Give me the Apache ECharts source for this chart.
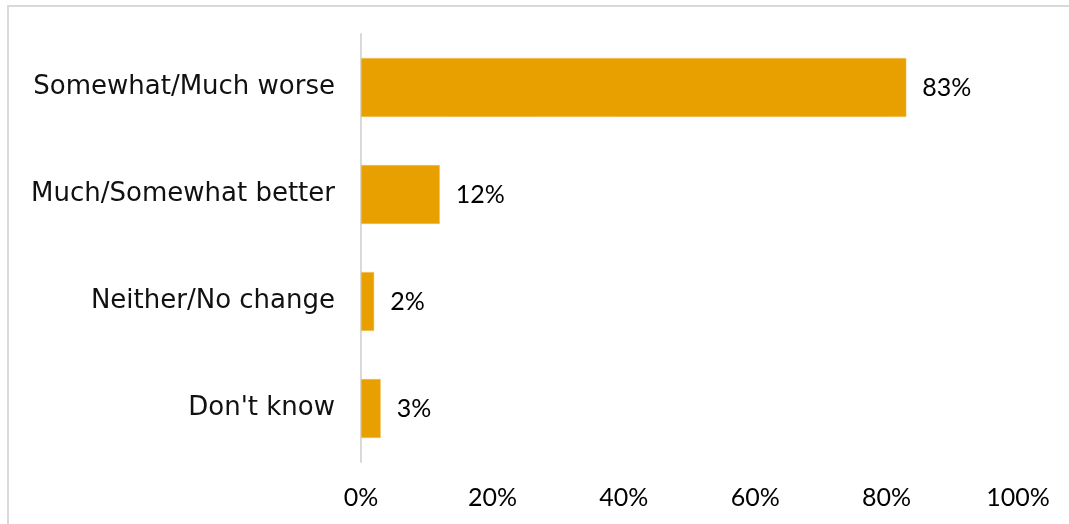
<!DOCTYPE html>
<html>
<head>
<meta charset="utf-8">
<script src="https://cdn.jsdelivr.net/npm/echarts@6/dist/echarts.min.js"></script>
<style>
  html, body { margin: 0; padding: 0; background: #fff; }
  #frame { position: absolute; left: 7px; top: 5px; width: 1080px; height: 540px;
           border: 2px solid #d9d9d9; box-sizing: border-box; }
  #chart { position: absolute; left: 0; top: 0; width: 1069px; height: 524px; }
</style>
</head>
<body>
<div id="frame"></div>
<div id="chart"></div>
<script>
// Survey responses, listed top to bottom
const categories = ['Somewhat/Much worse', 'Much/Somewhat better', 'Neither/No change', "Don't know"];
const shares = [83, 12, 2, 3];
const tickValues = [0, 20, 40, 60, 80, 100];

const TEXT_FONT = '"DejaVu Sans", sans-serif';
const NUM_FONT = 'Lato, "DejaVu Sans", sans-serif';

const chart = echarts.init(document.getElementById('chart'), null, { renderer: 'canvas' });
chart.setOption({
  animation: false,
  grid: { left: 361, right: 51, top: 34, bottom: 62, containLabel: false },
  xAxis: {
    type: 'value',
    min: 0, max: 100, interval: 20,
    axisLine: { show: false },
    axisTick: { show: false },
    splitLine: { show: false },
    axisLabel: {
      formatter: v => tickValues.includes(v) ? v + '%' : '',
      color: '#000', fontSize: 25, fontFamily: NUM_FONT, margin: 23
    }
  },
  yAxis: {
    type: 'category',
    data: categories.slice().reverse(),
    axisLine: { show: true, lineStyle: { color: '#d9d9d9', width: 2 } },
    axisTick: { show: false },
    axisLabel: { color: '#111', fontSize: 26, fontFamily: TEXT_FONT, margin: 26 }
  },
  series: [{
    type: 'bar',
    data: shares.slice().reverse(),
    barWidth: '55%',
    itemStyle: { color: '#e8a000', borderColor: '#f2c060', borderWidth: 0.5 },
    label: {
      show: true, position: 'right', distance: 16,
      formatter: p => p.value + '%',
      color: '#000', fontSize: 25, fontFamily: NUM_FONT
    }
  }]
});
</script>
</body>
</html>
